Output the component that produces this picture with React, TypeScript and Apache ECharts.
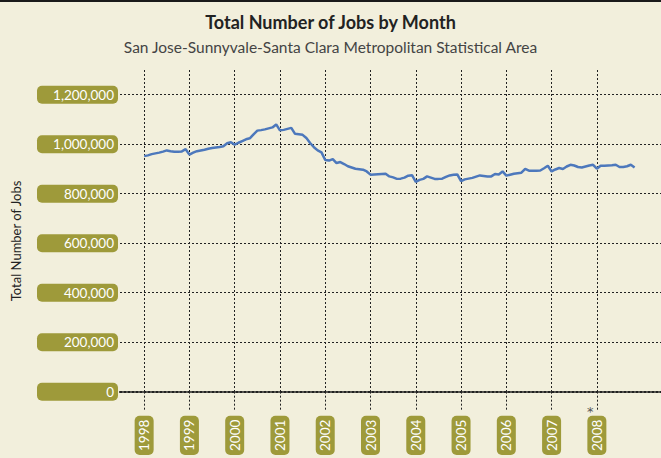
import React, { useEffect, useRef } from "react";
import * as echarts from "echarts";

const title = "Total Number of Jobs by Month";
const subtitle = "San Jose-Sunnyvale-Santa Clara Metropolitan Statistical Area";
const yAxisName = "Total Number of Jobs";

const yearLabels = ["1998", "1999", "2000", "2001", "2002", "2003", "2004", "2005", "2006", "2007", "2008"];
const yTicks = [0, 200000, 400000, 600000, 800000, 1000000, 1200000];

// Monthly jobs (thousands), January to December of each year
const jobs1998 = [952, 955, 960, 963, 966, 970, 975, 972, 970, 970, 971, 980];
const jobs1999 = [958, 966, 972, 975, 978, 982, 985, 987, 989, 992, 1004, 1008];
const jobs2000 = [998, 1006, 1013, 1020, 1024, 1040, 1055, 1057, 1060, 1064, 1068, 1080];
const jobs2001 = [1056, 1058, 1062, 1066, 1042, 1040, 1038, 1025, 1005, 988, 975, 967];
const jobs2002 = [936, 934, 940, 924, 928, 920, 911, 906, 901, 899, 897, 890];
const jobs2003 = [877, 878, 879, 880, 881, 870, 866, 860, 861, 865, 873, 875];
const jobs2004 = [848, 856, 860, 870, 865, 860, 860, 861, 868, 874, 877, 878];
const jobs2005 = [851, 858, 861, 864, 869, 874, 872, 870, 870, 880, 878, 890];
const jobs2006 = [873, 877, 881, 883, 885, 900, 893, 893, 893, 894, 903, 913];
const jobs2007 = [890, 898, 904, 900, 910, 917, 914, 908, 906, 910, 914, 917];
const jobs2008 = [901, 913, 913, 914, 915, 917, 908, 908, 911, 917, 906];

const allYears = [jobs1998, jobs1999, jobs2000, jobs2001, jobs2002, jobs2003, jobs2004, jobs2005, jobs2006, jobs2007, jobs2008];

const PILL = "#9E9A3A";
const BG = "#F2EFDC";

export default function App() {
  const ref = useRef<HTMLDivElement>(null);
  useEffect(() => {
    if (!ref.current) return;
    const chart = echarts.init(ref.current, undefined, { renderer: "svg" });
    const data: [number, number][] = [];
    allYears.forEach((arr, yi) => {
      arr.forEach((v, mi) => data.push([yi * 12 + mi, v * 1000]));
    });
    const xTickValues = yearLabels.map((_, i) => i * 12);
    chart.setOption({
      animation: false,
      backgroundColor: BG,
      textStyle: { fontFamily: "Lato" },
      title: {
        text: title,
        subtext: subtitle,
        left: "center",
        top: 8,
        itemGap: 8,
        textStyle: { fontSize: 18, fontWeight: "bold", color: "#222", fontFamily: "Lato" },
        subtextStyle: { fontSize: 15.5, color: "#444", fontFamily: "Lato" },
      },
      grid: { left: 120, right: 0, top: 70, bottom: 65 },
      xAxis: {
        type: "value",
        min: -6.4,
        max: 137,
        axisLine: { show: true, lineStyle: { color: "#222", width: 2, type: [2, 2] } },
        axisTick: {
          show: true,
          customValues: xTickValues,
          length: 20,
          lineStyle: { color: "#222", width: 1, type: [2, 2] },
        },
        axisLabel: {
          customValues: xTickValues,
          rotate: 90,
          margin: 24,
          formatter: (v: number) => yearLabels[Math.round(v / 12)] ?? "",
          color: "#fff",
          fontSize: 13.5,
          backgroundColor: PILL,
          borderRadius: 5,
          padding: [3, 4, 2, 4],
        },
        splitLine: { show: true, lineStyle: { color: "#222", width: 1, type: [2, 2] } },
      },
      yAxis: {
        type: "value",
        min: 0,
        max: 1300000,
        axisLine: { show: false },
        axisTick: { show: false, customValues: yTicks },
        axisLabel: {
          customValues: yTicks,
          margin: 2,
          formatter: (v: number) => v.toLocaleString("en-US"),
          color: "#fff",
          fontSize: 13.5,
          backgroundColor: PILL,
          borderRadius: 5,
          width: 73,
          align: "right",
          padding: [2, 4, 1, 4],
          lineHeight: 15,
        },
        splitLine: { show: true, lineStyle: { color: "#222", width: 1, type: [2, 2] } },
      },
      graphic: [
        { type: "rect", shape: { x: 0, y: 0, width: 661, height: 2 }, style: { fill: "#1a1a1a" } },
        {
          type: "text",
          x: 16,
          y: 241,
          rotation: Math.PI / 2,
          style: { text: yAxisName, fontSize: 13, fill: "#222", fontFamily: "Lato", align: "center", verticalAlign: "middle" },
        },
        { type: "text", x: 587, y: 405, style: { text: "*", fontSize: 13, fill: "#555", fontFamily: "DejaVu Sans" } },
      ],
      series: [
        {
          type: "line",
          data,
          showSymbol: false,
          lineStyle: { color: "#4D78BC", width: 2.5 },
          itemStyle: { color: "#4D78BC" },
        },
      ],
    });
    return () => chart.dispose();
  }, []);
  return <div ref={ref} style={{ position: "fixed", left: 0, top: 0, width: 661, height: 458 }} />;
}
